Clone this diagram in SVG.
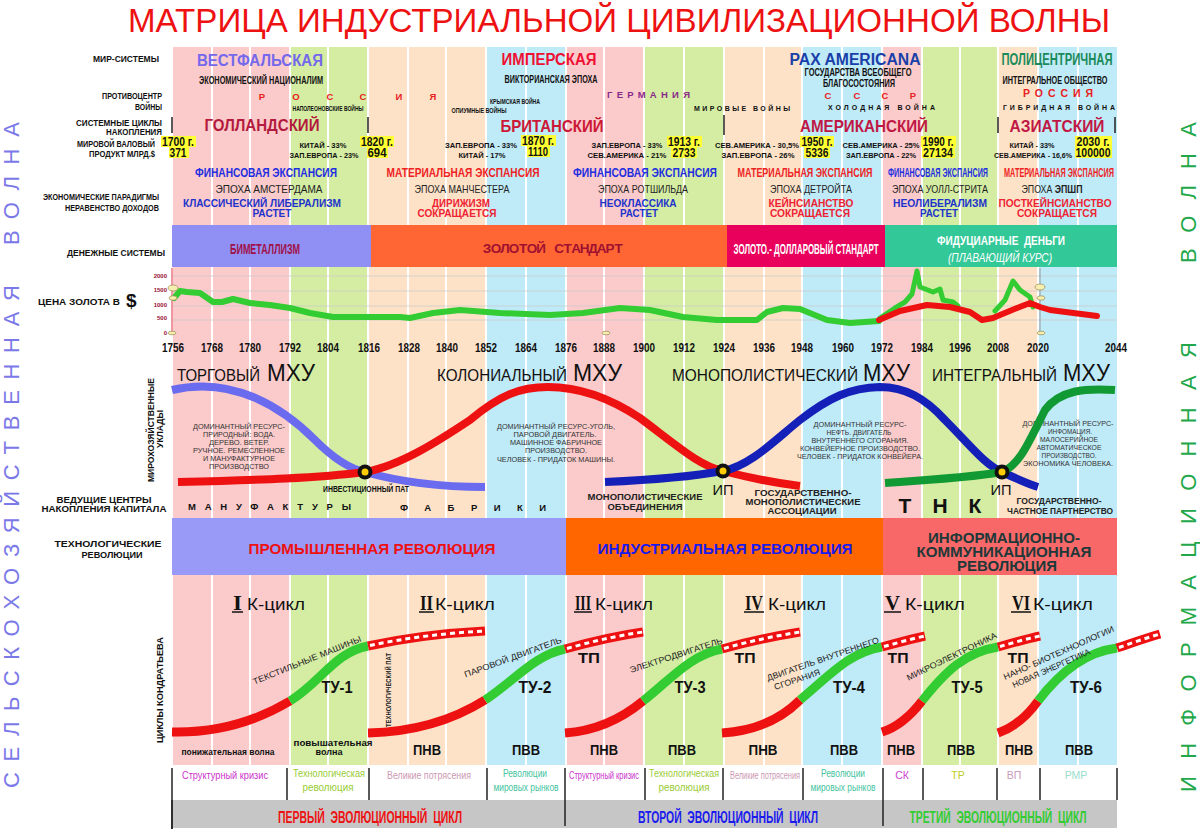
<svg xmlns="http://www.w3.org/2000/svg" width="1200" height="831" viewBox="0 0 1200 831">
<style>
.s{font-family:"Liberation Sans",Arial,sans-serif}
.n{font-family:"Liberation Sans Narrow","Liberation Sans",Arial,sans-serif;font-weight:bold}
.b{font-weight:bold}
.c{text-anchor:middle}
.e{text-anchor:end}
.P{fill:#fbcaca}.G{fill:#d4eda2}.E{fill:#fde2c8}.B{fill:#bfeaf8}
.lab{font-family:"Liberation Sans Narrow","Liberation Sans",Arial,sans-serif;font-weight:bold;font-size:8.5px;fill:#111}
.sm{font-family:"Liberation Sans Narrow","Liberation Sans",Arial,sans-serif;font-weight:bold;font-size:7px;fill:#111;text-anchor:middle}
.yr{font-family:"Liberation Sans Narrow","Liberation Sans",Arial,sans-serif;font-weight:bold;font-size:13px;fill:#111;text-anchor:middle}
.dsc{font-family:"Liberation Sans",Arial,sans-serif;font-size:7px;fill:#333;text-anchor:middle}
.hl{fill:#ffff33}
.num{font-family:"Liberation Sans Narrow","Liberation Sans",Arial,sans-serif;font-weight:bold;font-size:12px;fill:#111;text-anchor:middle}
.exp{font-family:"Liberation Sans Narrow","Liberation Sans",Arial,sans-serif;font-weight:bold;font-size:12.5px;text-anchor:middle}
.ep{font-family:"Liberation Sans",Arial,sans-serif;font-size:10.5px;fill:#222;text-anchor:middle}
.par{font-family:"Liberation Sans",Arial,sans-serif;font-weight:bold;font-size:10px;text-anchor:middle}
.tu{font-family:"Liberation Sans",Arial,sans-serif;font-weight:bold;font-size:16px;fill:#111;text-anchor:middle}
.pv{font-family:"Liberation Sans",Arial,sans-serif;font-weight:bold;font-size:14px;fill:#111;text-anchor:middle}
.kl{font-family:"Liberation Sans",Arial,sans-serif;font-size:8.5px;fill:#222}
.bt{font-family:"Liberation Sans Narrow","Liberation Sans",Arial,sans-serif;font-size:10.5px;text-anchor:middle}
.kc{font-family:"Liberation Sans",Arial,sans-serif;font-size:17px;fill:#111}
.rn{font-family:"Liberation Serif","Times New Roman",serif;font-weight:bold;font-size:21px;fill:#111}
.ev{font-family:"Liberation Sans Narrow","Liberation Sans",Arial,sans-serif;font-weight:bold;font-size:16px;text-anchor:middle}
.bar{stroke:#222;stroke-width:1.5}
.ov{fill:#f7efb0;stroke:#9a8a55;stroke-width:0.7}
</style>
<rect width="1200" height="831" fill="#fff"/>

<g id="bands">
<rect class="P" x="173" y="47" width="38" height="718"/>
<rect class="P" x="213" y="47" width="36" height="718"/>
<rect class="P" x="251" y="47" width="38" height="718"/>
<rect class="G" x="291" y="47" width="36" height="718"/>
<rect class="G" x="329" y="47" width="38" height="718"/>
<rect class="E" x="369" y="47" width="38" height="718"/>
<rect class="E" x="409" y="47" width="36" height="718"/>
<rect class="E" x="447" y="47" width="38" height="718"/>
<rect class="B" x="487" y="47" width="38" height="718"/>
<rect class="B" x="527" y="47" width="38" height="718"/>
<rect class="P" x="567" y="47" width="36" height="718"/>
<rect class="P" x="605" y="47" width="38" height="718"/>
<rect class="G" x="645" y="47" width="38" height="718"/>
<rect class="G" x="685" y="47" width="38" height="718"/>
<rect class="E" x="725" y="47" width="38" height="718"/>
<rect class="E" x="765" y="47" width="36" height="718"/>
<rect class="B" x="803" y="47" width="38" height="718"/>
<rect class="B" x="843" y="47" width="38" height="718"/>
<rect class="P" x="883" y="47" width="38" height="718"/>
<rect class="G" x="923" y="47" width="36" height="718"/>
<rect class="G" x="961" y="47" width="36" height="718"/>
<rect class="E" x="999" y="47" width="38" height="718"/>
<rect class="B" x="1039" y="47" width="38" height="718"/>
<rect class="B" x="1079" y="47" width="38" height="718"/>
</g>

<g id="title">
<text x="619" y="32" class="s c" font-size="34" fill="#ee1111" textLength="982" lengthAdjust="spacingAndGlyphs">МАТРИЦА ИНДУСТРИАЛЬНОЙ ЦИВИЛИЗАЦИОННОЙ ВОЛНЫ</text>
</g>

<g id="side-waves" class="s" font-size="22">
<text transform="translate(19,788) rotate(-90)" fill="#7b78e8" textLength="503" lengthAdjust="spacing">СЕЛЬСКОХОЗЯЙСТВЕННАЯ</text>
<text transform="translate(19,245) rotate(-90)" fill="#7b78e8" textLength="123" lengthAdjust="spacing">ВОЛНА</text>
<text transform="translate(1196,792) rotate(-90)" fill="#22a84a" textLength="450" lengthAdjust="spacing">ИНФОРМАЦИОННАЯ</text>
<text transform="translate(1196,263) rotate(-90)" fill="#22a84a" textLength="141" lengthAdjust="spacing">ВОЛНА</text>
</g>

<g id="row-labels">
<text class="lab e" x="159" y="62" textLength="66" lengthAdjust="spacingAndGlyphs">МИР-СИСТЕМЫ</text>
<text class="lab e" x="162" y="99" textLength="60" lengthAdjust="spacingAndGlyphs">ПРОТИВОЦЕНТР</text>
<text class="lab e" x="162" y="110" textLength="27" lengthAdjust="spacingAndGlyphs">ВОЙНЫ</text>
<text class="lab e" x="162" y="126" textLength="86" lengthAdjust="spacingAndGlyphs">СИСТЕМНЫЕ ЦИКЛЫ</text>
<text class="lab e" x="162" y="135" textLength="56" lengthAdjust="spacingAndGlyphs">НАКОПЛЕНИЯ</text>
<text class="lab e" x="155" y="147" textLength="78" lengthAdjust="spacingAndGlyphs">МИРОВОЙ ВАЛОВЫЙ</text>
<text class="lab e" x="155" y="157" textLength="66" lengthAdjust="spacingAndGlyphs">ПРОДУКТ МЛРД.$</text>
<text class="lab e" x="159" y="200" textLength="116" lengthAdjust="spacingAndGlyphs">ЭКОНОМИЧЕСКИЕ ПАРАДИГМЫ</text>
<text class="lab e" x="159" y="211" textLength="94" lengthAdjust="spacingAndGlyphs">НЕРАВЕНСТВО ДОХОДОВ</text>
<text class="lab e" x="165" y="256" font-size="12" textLength="98" lengthAdjust="spacingAndGlyphs">ДЕНЕЖНЫЕ СИСТЕМЫ</text>
<text class="lab" x="38" y="305" font-size="10.5" textLength="82" lengthAdjust="spacingAndGlyphs">ЦЕНА ЗОЛОТА В</text>
<text class="s b" x="126" y="307" font-size="19" fill="#111">$</text>
<text class="s b" transform="translate(154,430) rotate(-90)" font-size="8.5" fill="#111" text-anchor="middle" textLength="104" lengthAdjust="spacingAndGlyphs">МИРОХОЗЯЙСТВЕННЫЕ</text>
<text class="s b" transform="translate(163,429) rotate(-90)" font-size="8.5" fill="#111" text-anchor="middle" textLength="38" lengthAdjust="spacingAndGlyphs">УКЛАДЫ</text>
<text class="s b c" x="104" y="503" font-size="9.5" fill="#111" textLength="95" lengthAdjust="spacingAndGlyphs">ВЕДУЩИЕ ЦЕНТРЫ</text>
<text class="s b c" x="104" y="512" font-size="9.5" fill="#111" textLength="125" lengthAdjust="spacingAndGlyphs">НАКОПЛЕНИЯ КАПИТАЛА</text>
<text class="s b c" x="108" y="547" font-size="9.5" fill="#111" textLength="107" lengthAdjust="spacingAndGlyphs">ТЕХНОЛОГИЧЕСКИЕ</text>
<text class="s b c" x="112" y="558" font-size="9.5" fill="#111" textLength="61" lengthAdjust="spacingAndGlyphs">РЕВОЛЮЦИИ</text>
<text class="s b" transform="translate(163,690) rotate(-90)" font-size="9" fill="#111" text-anchor="middle" textLength="106" lengthAdjust="spacingAndGlyphs">ЦИКЛЫ КОНДРАТЬЕВА</text>
</g>

<g id="world-systems">
<text class="s b c" x="260" y="66" font-size="16" fill="#7468ec" textLength="126" lengthAdjust="spacingAndGlyphs">ВЕСТФАЛЬСКАЯ</text>
<text class="s b c" x="549" y="65" font-size="16" fill="#ee1133" textLength="95" lengthAdjust="spacingAndGlyphs">ИМПЕРСКАЯ</text>
<text class="s b c" x="855" y="65" font-size="16" fill="#1a3fa8" textLength="131" lengthAdjust="spacingAndGlyphs">PAX AMERICANA</text>
<text class="n c" x="1057" y="65" font-size="16" fill="#1b8a5a" textLength="111" lengthAdjust="spacingAndGlyphs">ПОЛИЦЕНТРИЧНАЯ</text>
<text class="n c" x="261" y="84" font-size="10.5" fill="#111" textLength="124" lengthAdjust="spacingAndGlyphs">ЭКОНОМИЧЕСКИЙ НАЦИОНАЛИМ</text>
<text class="n c" x="551" y="83" font-size="10.5" fill="#111" textLength="93" lengthAdjust="spacingAndGlyphs">ВИКТОРИАНСКАЯ ЭПОХА</text>
<text class="n c" x="858" y="76" font-size="10" fill="#111" textLength="107" lengthAdjust="spacingAndGlyphs">ГОСУДАРСТВА ВСЕОБЩЕГО</text>
<text class="n c" x="859" y="87" font-size="10" fill="#111" textLength="72" lengthAdjust="spacingAndGlyphs">БЛАГОСОСТОЯНИЯ</text>
<text class="n c" x="1055" y="84" font-size="10.5" fill="#111" textLength="105" lengthAdjust="spacingAndGlyphs">ИНТЕГРАЛЬНОЕ ОБЩЕСТВО</text>
</g>

<g id="countercentres">
<g class="s b c" font-size="9.5" fill="#e82020">
<text x="262" y="100">Р</text><text x="296" y="100">О</text><text x="330" y="100">С</text><text x="363" y="100">С</text><text x="399" y="100">И</text><text x="433" y="100">Я</text>
<text x="828" y="99">С</text><text x="857" y="99">С</text><text x="885" y="99">С</text><text x="913" y="99">Р</text>
</g>
<text class="s b" x="1023" y="97" font-size="10.5" fill="#e82020" textLength="70" lengthAdjust="spacing">РОССИЯ</text>
<text class="s b" x="607" y="98" font-size="9.5" fill="#8a2a8a" textLength="83" lengthAdjust="spacing">ГЕРМАНИЯ</text>
<text class="sm" x="328" y="111" textLength="71" lengthAdjust="spacingAndGlyphs">НАПОЛЕОНОВСКИЕ ВОЙНЫ</text>
<text class="sm" x="515" y="104" textLength="50" lengthAdjust="spacingAndGlyphs">КРЫМСКАЯ ВОЙНА</text>
<text class="sm" x="479" y="113" textLength="55" lengthAdjust="spacingAndGlyphs">ОПИУМНЫЕ ВОЙНЫ</text>
<text class="s b" x="694" y="111" font-size="7" fill="#111" textLength="96" lengthAdjust="spacing">МИРОВЫЕ  ВОЙНЫ</text>
<text class="s b" x="828" y="110" font-size="7" fill="#111" textLength="107" lengthAdjust="spacing">ХОЛОДНАЯ  ВОЙНА</text>
<text class="s b" x="1003" y="110" font-size="7" fill="#111" textLength="112" lengthAdjust="spacing">ГИБРИДНАЯ  ВОЙНА</text>
</g>

<g id="accumulation-cycles">
<line class="bar" x1="172" y1="117" x2="172" y2="133"/>
<line class="bar" x1="368" y1="117" x2="368" y2="133"/>
<line class="bar" x1="724" y1="115" x2="724" y2="135"/>
<line class="bar" x1="998" y1="117" x2="998" y2="133"/>
<line class="bar" x1="1115" y1="117" x2="1115" y2="133"/>
<text class="s b c" x="262" y="131" font-size="17" fill="#b31a3d" textLength="115" lengthAdjust="spacingAndGlyphs">ГОЛЛАНДСКИЙ</text>
<text class="s b c" x="552" y="132" font-size="17" fill="#cc1836" textLength="103" lengthAdjust="spacingAndGlyphs">БРИТАНСКИЙ</text>
<text class="s b c" x="864" y="132" font-size="17" fill="#c01845" textLength="128" lengthAdjust="spacingAndGlyphs">АМЕРИКАНСКИЙ</text>
<text class="s b c" x="1057" y="132" font-size="17" fill="#c01845" textLength="95" lengthAdjust="spacingAndGlyphs">АЗИАТСКИЙ</text>
</g>

<g id="gdp">
<rect class="hl" x="161" y="136" width="35" height="11"/><text class="num" x="178" y="146" textLength="32" lengthAdjust="spacingAndGlyphs">1700 г.</text>
<rect class="hl" x="169" y="147" width="20" height="11"/><text class="num" x="178" y="157" textLength="17" lengthAdjust="spacingAndGlyphs">371</text>
<text class="sm" x="323" y="148" textLength="47" lengthAdjust="spacingAndGlyphs">КИТАЙ - 33%</text>
<text class="sm" x="324" y="158" textLength="69" lengthAdjust="spacingAndGlyphs">ЗАП.ЕВРОПА - 23%</text>
<rect class="hl" x="360" y="136" width="34" height="11"/><text class="num" x="377" y="146" textLength="32" lengthAdjust="spacingAndGlyphs">1820 г.</text>
<rect class="hl" x="367" y="147" width="21" height="11"/><text class="num" x="377" y="157" textLength="19" lengthAdjust="spacingAndGlyphs">694</text>
<text class="sm" x="481" y="148" textLength="72" lengthAdjust="spacingAndGlyphs">ЗАП.ЕВРОПА - 33%</text>
<text class="sm" x="482" y="158" textLength="47" lengthAdjust="spacingAndGlyphs">КИТАЙ - 17%</text>
<rect class="hl" x="521" y="135" width="35" height="11"/><text class="num" x="538" y="145" textLength="32" lengthAdjust="spacingAndGlyphs">1870 г.</text>
<rect class="hl" x="527" y="146" width="23" height="11"/><text class="num" x="538" y="156" textLength="20" lengthAdjust="spacingAndGlyphs">1110</text>
<text class="sm" x="627" y="148" textLength="71" lengthAdjust="spacingAndGlyphs">ЗАП.ЕВРОПА - 33%</text>
<text class="sm" x="627" y="158" textLength="79" lengthAdjust="spacingAndGlyphs">СЕВ.АМЕРИКА - 21%</text>
<rect class="hl" x="667" y="136" width="35" height="11"/><text class="num" x="684" y="146" textLength="32" lengthAdjust="spacingAndGlyphs">1913 г.</text>
<rect class="hl" x="671" y="147" width="26" height="11"/><text class="num" x="684" y="157" textLength="23" lengthAdjust="spacingAndGlyphs">2733</text>
<text class="sm" x="757" y="148" textLength="84" lengthAdjust="spacingAndGlyphs">СЕВ.АМЕРИКА - 30,5%</text>
<text class="sm" x="758" y="158" textLength="73" lengthAdjust="spacingAndGlyphs">ЗАП.ЕВРОПА - 26%</text>
<rect class="hl" x="800" y="136" width="34" height="11"/><text class="num" x="817" y="146" textLength="31" lengthAdjust="spacingAndGlyphs">1950 г.</text>
<rect class="hl" x="804" y="147" width="26" height="11"/><text class="num" x="817" y="157" textLength="23" lengthAdjust="spacingAndGlyphs">5336</text>
<text class="sm" x="881" y="148" textLength="77" lengthAdjust="spacingAndGlyphs">СЕВ.АМЕРИКА - 25%</text>
<text class="sm" x="881" y="158" textLength="70" lengthAdjust="spacingAndGlyphs">ЗАП.ЕВРОПА - 22%</text>
<rect class="hl" x="921" y="136" width="35" height="11"/><text class="num" x="938" y="146" textLength="31" lengthAdjust="spacingAndGlyphs">1990 г.</text>
<rect class="hl" x="922" y="147" width="33" height="11"/><text class="num" x="938" y="157" textLength="30" lengthAdjust="spacingAndGlyphs">27134</text>
<text class="sm" x="1032" y="148" textLength="45" lengthAdjust="spacingAndGlyphs">КИТАЙ - 33%</text>
<text class="sm" x="1033" y="158" textLength="78" lengthAdjust="spacingAndGlyphs">СЕВ.АМЕРИКА - 16,6%</text>
<rect class="hl" x="1075" y="136" width="37" height="11"/><text class="num" x="1093" y="146" textLength="33" lengthAdjust="spacingAndGlyphs">2030 г.</text>
<rect class="hl" x="1075" y="147" width="37" height="11"/><text class="num" x="1093" y="157" textLength="35" lengthAdjust="spacingAndGlyphs">100000</text>
</g>

<g id="expansions">
<text class="exp" x="266" y="177" fill="#1e2ee0" textLength="142" lengthAdjust="spacingAndGlyphs">ФИНАНСОВАЯ ЭКСПАНСИЯ</text>
<text class="exp" x="463" y="177" fill="#ee2222" textLength="153" lengthAdjust="spacingAndGlyphs">МАТЕРИАЛЬНАЯ ЭКСПАНСИЯ</text>
<text class="exp" x="645" y="177" fill="#1e2ee0" textLength="144" lengthAdjust="spacingAndGlyphs">ФИНАНСОВАЯ ЭКСПАНСИЯ</text>
<text class="exp" x="805" y="177" fill="#ee2222" textLength="135" lengthAdjust="spacingAndGlyphs">МАТЕРИАЛЬНАЯ ЭКСПАНСИЯ</text>
<text class="exp" x="938" y="177" fill="#1e2ee0" textLength="100" lengthAdjust="spacingAndGlyphs">ФИНАНСОВАЯ ЭКСПАНСИЯ</text>
<text class="exp" x="1059" y="177" fill="#ee2222" textLength="110" lengthAdjust="spacingAndGlyphs">МАТЕРИАЛЬНАЯ ЭКСПАНСИЯ</text>
<text class="ep" x="269" y="193" textLength="107" lengthAdjust="spacingAndGlyphs">ЭПОХА АМСТЕРДАМА</text>
<text class="ep" x="462" y="193" textLength="95" lengthAdjust="spacingAndGlyphs">ЭПОХА МАНЧЕСТЕРА</text>
<text class="ep" x="643" y="193" textLength="90" lengthAdjust="spacingAndGlyphs">ЭПОХА РОТШИЛЬДА</text>
<text class="ep" x="811" y="193" textLength="82" lengthAdjust="spacingAndGlyphs">ЭПОХА ДЕТРОЙТА</text>
<text class="ep" x="940" y="193" textLength="96" lengthAdjust="spacingAndGlyphs">ЭПОХА УОЛЛ-СТРИТА</text>
<text class="ep" x="1052" y="193" textLength="61" lengthAdjust="spacingAndGlyphs">ЭПОХА <tspan font-weight="bold">ЭПШП</tspan></text>
<text class="par" x="262" y="207" fill="#2233cc" textLength="158" lengthAdjust="spacingAndGlyphs">КЛАССИЧЕСКИЙ ЛИБЕРАЛИЗМ</text>
<text class="par" x="272" y="217" fill="#2233cc" textLength="39" lengthAdjust="spacingAndGlyphs">РАСТЕТ</text>
<text class="par" x="461" y="207" fill="#ee2233" textLength="58" lengthAdjust="spacingAndGlyphs">ДИРИЖИЗМ</text>
<text class="par" x="457" y="217" fill="#ee2233" textLength="79" lengthAdjust="spacingAndGlyphs">СОКРАЩАЕТСЯ</text>
<text class="par" x="638" y="207" fill="#2233cc" textLength="77" lengthAdjust="spacingAndGlyphs">НЕОКЛАССИКА</text>
<text class="par" x="639" y="217" fill="#2233cc" textLength="38" lengthAdjust="spacingAndGlyphs">РАСТЕТ</text>
<text class="par" x="811" y="207" fill="#ee2233" textLength="85" lengthAdjust="spacingAndGlyphs">КЕЙНСИАНСТВО</text>
<text class="par" x="810" y="217" fill="#ee2233" textLength="80" lengthAdjust="spacingAndGlyphs">СОКРАЩАЕТСЯ</text>
<text class="par" x="940" y="207" fill="#2233cc" textLength="94" lengthAdjust="spacingAndGlyphs">НЕОЛИБЕРАЛИЗМ</text>
<text class="par" x="939" y="217" fill="#2233cc" textLength="38" lengthAdjust="spacingAndGlyphs">РАСТЕТ</text>
<text class="par" x="1055" y="207" fill="#ee2233" textLength="113" lengthAdjust="spacingAndGlyphs">ПОСТКЕЙНСИАНСТВО</text>
<text class="par" x="1057" y="217" fill="#ee2233" textLength="80" lengthAdjust="spacingAndGlyphs">СОКРАЩАЕТСЯ</text>
</g>

<g id="money-systems">
<rect x="172" y="225" width="199" height="42" fill="#9090f4"/>
<rect x="371" y="225" width="356" height="42" fill="#ff6633"/>
<rect x="727" y="225" width="158" height="42" fill="#e8005c"/>
<rect x="885" y="225" width="232" height="42" fill="#33c898"/>
<text class="n c" x="265" y="254" font-size="14" fill="#a0104a" textLength="70" lengthAdjust="spacingAndGlyphs">БИМЕТАЛЛИЗМ</text>
<text class="n c" y="253" font-size="13.5" fill="#a01030" x="487 496 505 514 523 532 541 559 567.5 576 584.5 593 601.5 610 618.5">ЗОЛОТОЙСТАНДАРТ</text>
<text class="n c" x="806" y="254" font-size="14" fill="#fff" textLength="145" lengthAdjust="spacingAndGlyphs">ЗОЛОТО.- ДОЛЛАРОВЫЙ СТАНДАРТ</text>
<text class="n c" x="1001" y="245" font-size="13" fill="#fff" textLength="128" lengthAdjust="spacingAndGlyphs">ФИДУЦИАРНЫЕ&#160;&#160;ДЕНЬГИ</text>
<text class="s c" x="1000" y="262" font-size="12.5" font-style="italic" fill="#fff" textLength="104" lengthAdjust="spacingAndGlyphs">(ПЛАВАЮЩИЙ КУРС)</text>
</g>

<g id="gold-chart">
<g stroke="#c8c8c8" stroke-width="0.7">
<line x1="172" y1="276" x2="1117" y2="276"/><line x1="172" y1="291" x2="1117" y2="291"/><line x1="172" y1="306" x2="1117" y2="306"/><line x1="172" y1="320" x2="1117" y2="320"/>
</g>
<line x1="172" y1="268" x2="172" y2="334" stroke="#dd3344" stroke-width="1"/>
<line x1="1040" y1="268" x2="1040" y2="334" stroke="#999" stroke-width="1"/>
<g class="n e" font-size="6" fill="#991133">
<text x="167" y="278">2000</text><text x="167" y="292">1500</text><text x="167" y="307">1000</text><text x="167" y="320">500</text><text x="167" y="335">0</text>
</g>
<polyline fill="none" stroke="#33cc33" stroke-width="6" stroke-linejoin="round" stroke-linecap="round" points="174,298 180,291 187,292 200,293 213,302 222,302 233,299 250,303 270,305 290,308 310,313 333,317 367,317 400,317 410,318 433,313 460,310 500,313 550,315 583,313 620,308 650,310 683,317 717,320 757,320 767,312 783,308 800,309 827,320 850,323 879,321"/>
<polyline fill="none" stroke="#33cc33" stroke-width="5" stroke-linejoin="round" stroke-linecap="round" points="880,318 895,308 905,302 912,294 917,271 920,287 933,292 940,289 943,300 953,302 958,306"/>
<polyline fill="none" stroke="#33cc33" stroke-width="5" stroke-linejoin="round" stroke-linecap="round" points="995,311 1005,300 1013,281 1020,290 1030,297 1033,307"/>
<polyline fill="none" stroke="#ee1111" stroke-width="6" stroke-linejoin="round" stroke-linecap="round" points="879,320 900,311 927,305 950,307 970,312 982,320 993,318 1000,315 1017,308 1030,303 1040,307 1050,310 1097,316"/>
<ellipse class="ov" cx="173" cy="288" rx="5" ry="3"/><ellipse class="ov" cx="173" cy="298" rx="4" ry="2.2"/><ellipse class="ov" cx="172" cy="333" rx="4" ry="1.8"/>
<ellipse class="ov" cx="606" cy="333" rx="4" ry="1.8"/>
<ellipse class="ov" cx="1040" cy="287" rx="5" ry="3"/><ellipse class="ov" cx="1041" cy="298" rx="4" ry="2.2"/><ellipse class="ov" cx="1041" cy="333" rx="4" ry="1.8"/>
</g>

<g id="years">
<text class="yr" x="173" y="352" textLength="22" lengthAdjust="spacingAndGlyphs">1756</text>
<text class="yr" x="212" y="352" textLength="22" lengthAdjust="spacingAndGlyphs">1768</text>
<text class="yr" x="250" y="352" textLength="22" lengthAdjust="spacingAndGlyphs">1780</text>
<text class="yr" x="290" y="352" textLength="22" lengthAdjust="spacingAndGlyphs">1792</text>
<text class="yr" x="328" y="352" textLength="22" lengthAdjust="spacingAndGlyphs">1804</text>
<text class="yr" x="369" y="352" textLength="22" lengthAdjust="spacingAndGlyphs">1816</text>
<text class="yr" x="409" y="352" textLength="22" lengthAdjust="spacingAndGlyphs">1828</text>
<text class="yr" x="447" y="352" textLength="22" lengthAdjust="spacingAndGlyphs">1840</text>
<text class="yr" x="486" y="352" textLength="22" lengthAdjust="spacingAndGlyphs">1852</text>
<text class="yr" x="526" y="352" textLength="22" lengthAdjust="spacingAndGlyphs">1864</text>
<text class="yr" x="566" y="352" textLength="22" lengthAdjust="spacingAndGlyphs">1876</text>
<text class="yr" x="604" y="352" textLength="22" lengthAdjust="spacingAndGlyphs">1888</text>
<text class="yr" x="644" y="352" textLength="22" lengthAdjust="spacingAndGlyphs">1900</text>
<text class="yr" x="684" y="352" textLength="22" lengthAdjust="spacingAndGlyphs">1912</text>
<text class="yr" x="724" y="352" textLength="22" lengthAdjust="spacingAndGlyphs">1924</text>
<text class="yr" x="764" y="352" textLength="22" lengthAdjust="spacingAndGlyphs">1936</text>
<text class="yr" x="802" y="352" textLength="22" lengthAdjust="spacingAndGlyphs">1948</text>
<text class="yr" x="843" y="352" textLength="22" lengthAdjust="spacingAndGlyphs">1960</text>
<text class="yr" x="882" y="352" textLength="22" lengthAdjust="spacingAndGlyphs">1972</text>
<text class="yr" x="922" y="352" textLength="22" lengthAdjust="spacingAndGlyphs">1984</text>
<text class="yr" x="960" y="352" textLength="22" lengthAdjust="spacingAndGlyphs">1996</text>
<text class="yr" x="998" y="352" textLength="22" lengthAdjust="spacingAndGlyphs">2008</text>
<text class="yr" x="1038" y="352" textLength="22" lengthAdjust="spacingAndGlyphs">2020</text>
<text class="yr" x="1116" y="352" textLength="22" lengthAdjust="spacingAndGlyphs">2044</text>
</g>

<g id="mxu-titles" class="s" fill="#111">
<text x="177" y="381" font-size="16" textLength="83" lengthAdjust="spacingAndGlyphs">ТОРГОВЫЙ</text>
<text x="267" y="381" font-size="24" textLength="48" lengthAdjust="spacingAndGlyphs">МХУ</text>
<text x="437" y="381" font-size="16" textLength="130" lengthAdjust="spacingAndGlyphs">КОЛОНИАЛЬНЫЙ</text>
<text x="573" y="381" font-size="24" textLength="49" lengthAdjust="spacingAndGlyphs">МХУ</text>
<text x="672" y="381" font-size="16" textLength="186" lengthAdjust="spacingAndGlyphs">МОНОПОЛИСТИЧЕСКИЙ</text>
<text x="863" y="381" font-size="24" textLength="47" lengthAdjust="spacingAndGlyphs">МХУ</text>
<text x="932" y="381" font-size="16" textLength="125" lengthAdjust="spacingAndGlyphs">ИНТЕГРАЛЬНЫЙ</text>
<text x="1063" y="381" font-size="24" textLength="47" lengthAdjust="spacingAndGlyphs">МХУ</text>
</g>

<g id="mxu-descriptions">
<text class="dsc" x="239" y="429" textLength="92" lengthAdjust="spacingAndGlyphs">ДОМИНАНТНЫЙ РЕСУРС-</text>
<text class="dsc" x="239" y="437" textLength="72" lengthAdjust="spacingAndGlyphs">ПРИРОДНЫЙ: ВОДА.</text>
<text class="dsc" x="239" y="445" textLength="60" lengthAdjust="spacingAndGlyphs">ДЕРЕВО. ВЕТЕР.</text>
<text class="dsc" x="239" y="453" textLength="92" lengthAdjust="spacingAndGlyphs">РУЧНОЕ. РЕМЕСЛЕННОЕ</text>
<text class="dsc" x="239" y="461" textLength="72" lengthAdjust="spacingAndGlyphs">И МАНУФАКТУРНОЕ</text>
<text class="dsc" x="239" y="469" textLength="60" lengthAdjust="spacingAndGlyphs">ПРОИЗВОДСТВО</text>
<text class="dsc" x="556" y="429" textLength="118" lengthAdjust="spacingAndGlyphs">ДОМИНАНТНЫЙ РЕСУРС-УГОЛЬ,</text>
<text class="dsc" x="555" y="437" textLength="83" lengthAdjust="spacingAndGlyphs">ПАРОВОЙ ДВИГАТЕЛЬ.</text>
<text class="dsc" x="556" y="445" textLength="92" lengthAdjust="spacingAndGlyphs">МАШИННОЕ ФАБРИЧНОЕ</text>
<text class="dsc" x="556" y="453" textLength="62" lengthAdjust="spacingAndGlyphs">ПРОИЗВОДСТВО.</text>
<text class="dsc" x="556" y="462" textLength="118" lengthAdjust="spacingAndGlyphs">ЧЕЛОВЕК - ПРИДАТОК МАШИНЫ.</text>
<text class="dsc" x="860" y="427" textLength="93" lengthAdjust="spacingAndGlyphs">ДОМИНАНТНЫЙ РЕСУРС-</text>
<text class="dsc" x="859" y="435" textLength="65" lengthAdjust="spacingAndGlyphs">НЕФТЬ. ДВИГАТЕЛЬ</text>
<text class="dsc" x="860" y="443" textLength="97" lengthAdjust="spacingAndGlyphs">ВНУТРЕННЕГО СГОРАНИЯ.</text>
<text class="dsc" x="860" y="451" textLength="120" lengthAdjust="spacingAndGlyphs">КОНВЕЙЕРНОЕ ПРОИЗВОДСТВО.</text>
<text class="dsc" x="860" y="459" textLength="126" lengthAdjust="spacingAndGlyphs">ЧЕЛОВЕК - ПРИДАТОК КОНВЕЙЕРА.</text>
<text class="dsc" x="1068" y="426" textLength="91" lengthAdjust="spacingAndGlyphs">ДОМИНАНТНЫЙ РЕСУРС-</text>
<text class="dsc" x="1070" y="434" textLength="44" lengthAdjust="spacingAndGlyphs">ИНФОМАЦИЯ.</text>
<text class="dsc" x="1069" y="442" textLength="58" lengthAdjust="spacingAndGlyphs">МАЛОСЕРИЙНОЕ</text>
<text class="dsc" x="1069" y="450" textLength="65" lengthAdjust="spacingAndGlyphs">АВТОМАТИЧЕСКОЕ</text>
<text class="dsc" x="1069" y="458" textLength="55" lengthAdjust="spacingAndGlyphs">ПРОИЗВОДСТВО.</text>
<text class="dsc" x="1068" y="466" textLength="90" lengthAdjust="spacingAndGlyphs">ЭКОНОМИКА ЧЕЛОВЕКА.</text>
</g>

<g id="connectors" fill="none" stroke-linecap="butt">
<path d="M172,390 C235,375 285,410 315,440 C335,460 350,469 365,472 C400,482 440,487 485,487" stroke="#6b6bf0" stroke-width="8"/>
<path d="M178,482 C260,480 320,478 365,472 C400,466 440,440 470,420 C500,395 520,387 548,387 C580,387 610,398 640,418 C680,448 700,466 723,471 C750,478 775,483 800,486" stroke="#ee1111" stroke-width="8"/>
<path d="M605,482 C650,480 690,477 723,471 C750,466 775,440 800,420 C830,397 850,388 880,387 C905,387 925,398 945,420 C970,445 985,465 1002,472 C1015,478 1028,484 1038,487" stroke="#1420b8" stroke-width="8"/>
<path d="M885,483 C930,480 975,477 1002,472 C1020,465 1030,440 1045,410 C1060,390 1085,388 1115,390" stroke="#119933" stroke-width="8"/>

<g stroke-width="9">
<path d="M172,732 C215,733 255,722 290,701" stroke="#ee1111"/>
<path d="M290,701 C320,683 335,652 368,646" stroke="#33cc33"/>
<path d="M368,646 C405,638 445,633 485,631" stroke="#ee1111"/>
<path d="M368,733 C410,732 450,722 485,700" stroke="#ee1111"/>
<path d="M485,700 C515,680 535,655 565,649" stroke="#33cc33"/>
<path d="M565,649 C590,642 615,636 643,632" stroke="#ee1111"/>
<path d="M565,733 C595,731 620,720 643,701" stroke="#ee1111"/>
<path d="M643,701 C670,680 690,655 722,649" stroke="#33cc33"/>
<path d="M722,649 C750,641 775,636 800,632" stroke="#ee1111"/>
<path d="M722,733 C755,731 780,720 800,700" stroke="#ee1111"/>
<path d="M800,700 C830,675 850,652 882,647" stroke="#33cc33"/>
<path d="M882,647 C897,643 911,639 925,636" stroke="#ee1111"/>
<path d="M882,732 C898,727 912,714 922,701" stroke="#ee1111"/>
<path d="M922,701 C945,672 965,652 998,647" stroke="#33cc33"/>
<path d="M998,647 C1012,643 1026,639 1040,636" stroke="#ee1111"/>
<path d="M998,733 C1015,727 1028,715 1038,701" stroke="#ee1111"/>
<path d="M1038,701 C1060,672 1085,652 1117,648" stroke="#33cc33"/>
<path d="M1117,648 C1132,643 1146,638 1160,634" stroke="#ee1111"/>
</g>
<g stroke="#fff" stroke-width="3" stroke-dasharray="5 4">
<path d="M370,645.5 C405,638 445,633 485,631"/>
<path d="M567,648.5 C590,642 615,636 643,632"/>
<path d="M724,648.5 C750,641 775,636 800,632"/>
<path d="M884,646.5 C897,643 911,639 925,636"/>
<path d="M1000,646.5 C1012,643 1026,639 1040,636"/>
<path d="M1119,647.5 C1132,643 1146,638 1160,634"/>
</g>
</g>

<g id="crossings">
<circle cx="365" cy="472" r="7.5" fill="#111"/><circle cx="365" cy="472" r="3.5" fill="#ffcc00"/>
<circle cx="723" cy="471" r="7.5" fill="#111"/><circle cx="723" cy="471" r="3.5" fill="#ffcc00"/>
<circle cx="1002" cy="472" r="7.5" fill="#111"/><circle cx="1002" cy="472" r="3.5" fill="#ffcc00"/>
<text class="n c" x="366" y="492" font-size="8.5" fill="#111" textLength="86" lengthAdjust="spacingAndGlyphs">ИНВЕСТИЦИОННЫЙ ПАТ</text>
<text class="s c" x="723" y="495" font-size="15" fill="#111" textLength="21" lengthAdjust="spacingAndGlyphs">ИП</text>
<text class="s c" x="1001" y="495" font-size="15" fill="#111" textLength="21" lengthAdjust="spacingAndGlyphs">ИП</text>
</g>

<g id="capital-centres">
<text class="s b" x="188" y="510" font-size="9.5" fill="#111" textLength="163" lengthAdjust="spacing">МАНУФАКТУРЫ</text>
<text class="s b" x="400" y="511" font-size="9.5" fill="#111" textLength="146" lengthAdjust="spacing">ФАБРИКИ</text>
<text class="s b c" x="645" y="500" font-size="9" fill="#222" textLength="115" lengthAdjust="spacingAndGlyphs">МОНОПОЛИСТИЧЕСКИЕ</text>
<text class="s b c" x="645" y="510" font-size="9" fill="#222" textLength="75" lengthAdjust="spacingAndGlyphs">ОБЪЕДИНЕНИЯ</text>
<text class="s b c" x="803" y="496" font-size="9" fill="#222" textLength="97" lengthAdjust="spacingAndGlyphs">ГОСУДАРСТВЕННО-</text>
<text class="s b c" x="803" y="505" font-size="9" fill="#222" textLength="115" lengthAdjust="spacingAndGlyphs">МОНОПОЛИСТИЧЕСКИЕ</text>
<text class="s b c" x="802" y="514" font-size="9" fill="#222" textLength="69" lengthAdjust="spacingAndGlyphs">АССОЦИАЦИИ</text>
<g class="s b c" font-size="21" fill="#111"><text x="905" y="513">Т</text><text x="940" y="513">Н</text><text x="975" y="513">К</text></g>
<text class="s b c" x="1059" y="504" font-size="9" fill="#222" textLength="85" lengthAdjust="spacingAndGlyphs">ГОСУДАРСТВЕННО-</text>
<text class="s b c" x="1060" y="514" font-size="9" fill="#222" textLength="106" lengthAdjust="spacingAndGlyphs">ЧАСТНОЕ ПАРТНЕРСТВО</text>
</g>

<g id="tech-revolutions">
<rect x="172" y="518" width="394" height="57" fill="#9999f8"/>
<rect x="566" y="518" width="317" height="57" fill="#ff6600"/>
<rect x="883" y="518" width="234" height="57" fill="#f86868"/>
<text class="s b c" x="372" y="554" font-size="15" fill="#ee1111" textLength="247" lengthAdjust="spacingAndGlyphs">ПРОМЫШЛЕННАЯ РЕВОЛЮЦИЯ</text>
<text class="s b c" x="725" y="554" font-size="15" fill="#1a1aee" textLength="255" lengthAdjust="spacingAndGlyphs">ИНДУСТРИАЛЬНАЯ РЕВОЛЮЦИЯ</text>
<text class="s b c" x="1004" y="543" font-size="14.5" fill="#203838" textLength="152" lengthAdjust="spacingAndGlyphs">ИНФОРМАЦИОННО-</text>
<text class="s b c" x="1004" y="557" font-size="14.5" fill="#203838" textLength="175" lengthAdjust="spacingAndGlyphs">КОММУНИКАЦИОННАЯ</text>
<text class="s b c" x="1007" y="571" font-size="14.5" fill="#203838" textLength="100" lengthAdjust="spacingAndGlyphs">РЕВОЛЮЦИЯ</text>
</g>

<g id="k-cycle-titles">
<text class="rn" x="233" y="610" textLength="9" lengthAdjust="spacingAndGlyphs">I</text><line x1="232" y1="612" x2="243" y2="612" stroke="#111" stroke-width="1.5"/>
<text class="kc" x="247" y="610" textLength="58" lengthAdjust="spacingAndGlyphs">К-цикл</text>
<text class="rn" x="420" y="610" textLength="13" lengthAdjust="spacingAndGlyphs">II</text><line x1="419" y1="612" x2="434" y2="612" stroke="#111" stroke-width="1.5"/>
<text class="kc" x="435" y="610" textLength="60" lengthAdjust="spacingAndGlyphs">К-цикл</text>
<text class="rn" x="575" y="610" textLength="16" lengthAdjust="spacingAndGlyphs">III</text><line x1="574" y1="612" x2="592" y2="612" stroke="#111" stroke-width="1.5"/>
<text class="kc" x="595" y="610" textLength="58" lengthAdjust="spacingAndGlyphs">К-цикл</text>
<text class="rn" x="745" y="610" textLength="18" lengthAdjust="spacingAndGlyphs">IV</text><line x1="744" y1="612" x2="764" y2="612" stroke="#111" stroke-width="1.5"/>
<text class="kc" x="768" y="610" textLength="58" lengthAdjust="spacingAndGlyphs">К-цикл</text>
<text class="rn" x="885" y="610" textLength="15" lengthAdjust="spacingAndGlyphs">V</text><line x1="884" y1="612" x2="901" y2="612" stroke="#111" stroke-width="1.5"/>
<text class="kc" x="905" y="610" textLength="60" lengthAdjust="spacingAndGlyphs">К-цикл</text>
<text class="rn" x="1012" y="610" textLength="18" lengthAdjust="spacingAndGlyphs">VI</text><line x1="1011" y1="612" x2="1031" y2="612" stroke="#111" stroke-width="1.5"/>
<text class="kc" x="1033" y="610" textLength="60" lengthAdjust="spacingAndGlyphs">К-цикл</text>
</g>

<g id="k-cycle-labels">
<text class="kl" transform="translate(308,663) rotate(-22)" text-anchor="middle" textLength="116" lengthAdjust="spacingAndGlyphs">ТЕКСТИЛЬНЫЕ МАШИНЫ</text>
<text class="kl" transform="translate(514,660) rotate(-20)" text-anchor="middle" textLength="103" lengthAdjust="spacingAndGlyphs">ПАРОВОЙ ДВИГАТЕЛЬ</text>
<text class="kl" transform="translate(677,658) rotate(-18)" text-anchor="middle" textLength="97" lengthAdjust="spacingAndGlyphs">ЭЛЕКТРОДВИГАТЕЛЬ</text>
<g transform="translate(768,681) rotate(-19)">
<text class="kl" x="0" y="0" textLength="118" lengthAdjust="spacingAndGlyphs">ДВИГАТЕЛЬ ВНУТРЕННЕГО</text>
<text class="kl" x="4" y="11" textLength="48" lengthAdjust="spacingAndGlyphs">СГОРАНИЯ</text>
</g>
<text class="kl" transform="translate(953,659) rotate(-26)" text-anchor="middle" textLength="99" lengthAdjust="spacingAndGlyphs">МИКРОЭЛЕКТРОНИКА</text>
<g transform="translate(1005,680) rotate(-24)">
<text class="kl" x="0" y="0" textLength="120" lengthAdjust="spacingAndGlyphs">НАНО- БИОТЕХНООЛОГИИ</text>
<text class="kl" x="5" y="11" textLength="84" lengthAdjust="spacingAndGlyphs">НОВАЯ ЭНЕРГЕТИКА</text>
</g>
<text class="s b" transform="translate(391,690) rotate(-90)" font-size="6.5" fill="#222" text-anchor="middle" textLength="74" lengthAdjust="spacingAndGlyphs">ТЕХНОЛОГИЧЕСКИЙ ПАТ</text>
<text class="tu" x="337" y="693" textLength="31" lengthAdjust="spacingAndGlyphs">ТУ-1</text>
<text class="tu" x="535" y="693" textLength="33" lengthAdjust="spacingAndGlyphs">ТУ-2</text>
<text class="tu" x="690" y="693" textLength="31" lengthAdjust="spacingAndGlyphs">ТУ-3</text>
<text class="tu" x="849" y="693" textLength="32" lengthAdjust="spacingAndGlyphs">ТУ-4</text>
<text class="tu" x="967" y="693" textLength="31" lengthAdjust="spacingAndGlyphs">ТУ-5</text>
<text class="tu" x="1086" y="693" textLength="32" lengthAdjust="spacingAndGlyphs">ТУ-6</text>
<text class="pv" x="589" y="663" textLength="22" lengthAdjust="spacingAndGlyphs">ТП</text>
<text class="pv" x="745" y="663" textLength="21" lengthAdjust="spacingAndGlyphs">ТП</text>
<text class="pv" x="898" y="663" textLength="21" lengthAdjust="spacingAndGlyphs">ТП</text>
<text class="pv" x="1018" y="663" textLength="21" lengthAdjust="spacingAndGlyphs">ТП</text>
<text class="s b c" x="228" y="755" font-size="8.5" fill="#111" textLength="93" lengthAdjust="spacingAndGlyphs">понижательная волна</text>
<text class="s b c" x="333" y="746" font-size="8.5" fill="#111" textLength="79" lengthAdjust="spacingAndGlyphs">повышательная</text>
<text class="s b c" x="329" y="755" font-size="8.5" fill="#111" textLength="27" lengthAdjust="spacingAndGlyphs">волна</text>
<text class="pv" x="427" y="755" textLength="28" lengthAdjust="spacingAndGlyphs">ПНВ</text>
<text class="pv" x="526" y="755" textLength="28" lengthAdjust="spacingAndGlyphs">ПВВ</text>
<text class="pv" x="604" y="755" textLength="28" lengthAdjust="spacingAndGlyphs">ПНВ</text>
<text class="pv" x="682" y="755" textLength="28" lengthAdjust="spacingAndGlyphs">ПВВ</text>
<text class="pv" x="763" y="755" textLength="29" lengthAdjust="spacingAndGlyphs">ПНВ</text>
<text class="pv" x="844" y="755" textLength="28" lengthAdjust="spacingAndGlyphs">ПВВ</text>
<text class="pv" x="901" y="755" textLength="28" lengthAdjust="spacingAndGlyphs">ПНВ</text>
<text class="pv" x="961" y="755" textLength="28" lengthAdjust="spacingAndGlyphs">ПВВ</text>
<text class="pv" x="1019" y="755" textLength="28" lengthAdjust="spacingAndGlyphs">ПНВ</text>
<text class="pv" x="1079" y="755" textLength="28" lengthAdjust="spacingAndGlyphs">ПВВ</text>
</g>

<g id="phases">
<g class="bar">
<line x1="172" y1="768" x2="172" y2="829"/><line x1="287" y1="768" x2="287" y2="800"/><line x1="369" y1="768" x2="369" y2="800"/>
<line x1="487" y1="768" x2="487" y2="800"/><line x1="565" y1="768" x2="565" y2="826"/><line x1="645" y1="768" x2="645" y2="800"/>
<line x1="723" y1="768" x2="723" y2="800"/><line x1="803" y1="768" x2="803" y2="800"/><line x1="883" y1="768" x2="883" y2="826"/>
<line x1="923" y1="768" x2="923" y2="800"/><line x1="997" y1="768" x2="997" y2="800"/><line x1="1040" y1="768" x2="1040" y2="800"/>
<line x1="1117" y1="768" x2="1117" y2="800"/>
</g>
<text class="bt" x="225" y="779" fill="#cc33cc" textLength="86" lengthAdjust="spacingAndGlyphs">Структурный кризис</text>
<text class="bt" x="329" y="777" fill="#99cc33" textLength="72" lengthAdjust="spacingAndGlyphs">Технологическая</text>
<text class="bt" x="328" y="791" fill="#99cc33" textLength="51" lengthAdjust="spacingAndGlyphs">революция</text>
<text class="bt" x="429" y="779" fill="#cc99b4" textLength="84" lengthAdjust="spacingAndGlyphs">Великие потрясения</text>
<text class="bt" x="525" y="777" fill="#44c4a0" textLength="44" lengthAdjust="spacingAndGlyphs">Революции</text>
<text class="bt" x="526" y="791" fill="#44c4a0" textLength="65" lengthAdjust="spacingAndGlyphs">мировых рынков</text>
<text class="bt" x="604" y="779" fill="#cc33cc" textLength="70" lengthAdjust="spacingAndGlyphs">Структурный кризис</text>
<text class="bt" x="684" y="777" fill="#99cc33" textLength="70" lengthAdjust="spacingAndGlyphs">Технологическая</text>
<text class="bt" x="684" y="791" fill="#99cc33" textLength="51" lengthAdjust="spacingAndGlyphs">революция</text>
<text class="bt" x="765" y="779" fill="#cc99b4" textLength="70" lengthAdjust="spacingAndGlyphs">Великие потрясения</text>
<text class="bt" x="843" y="777" fill="#44c4a0" textLength="44" lengthAdjust="spacingAndGlyphs">Революции</text>
<text class="bt" x="843" y="791" fill="#44c4a0" textLength="65" lengthAdjust="spacingAndGlyphs">мировых рынков</text>
<text class="bt" x="902" y="779" fill="#cc44cc">СК</text>
<text class="bt" x="958" y="779" fill="#bbcc22">ТР</text>
<text class="bt" x="1014" y="779" fill="#cc99bb">ВП</text>
<text class="bt" x="1076" y="779" fill="#99ddcc">РМР</text>
</g>

<g id="evolution-cycles">
<rect x="173" y="800" width="944" height="28" fill="#c6c6c6"/>
<line class="bar" x1="172" y1="800" x2="172" y2="829"/><line class="bar" x1="565" y1="800" x2="565" y2="826"/><line class="bar" x1="883" y1="800" x2="883" y2="826"/>
<text class="ev" x="370" y="823" fill="#ee1111" textLength="184" lengthAdjust="spacingAndGlyphs">ПЕРВЫЙ&#160;&#160;ЭВОЛЮЦИОННЫЙ&#160;&#160;ЦИКЛ</text>
<text class="ev" x="728" y="823" fill="#1a1aee" textLength="180" lengthAdjust="spacingAndGlyphs">ВТОРОЙ&#160;&#160;ЭВОЛЮЦИОННЫЙ&#160;&#160;ЦИКЛ</text>
<text class="ev" x="998" y="823" fill="#33cc33" textLength="177" lengthAdjust="spacingAndGlyphs">ТРЕТИЙ&#160;&#160;ЭВОЛЮЦИОННЫЙ&#160;&#160;ЦИКЛ</text>
</g>
</svg>
